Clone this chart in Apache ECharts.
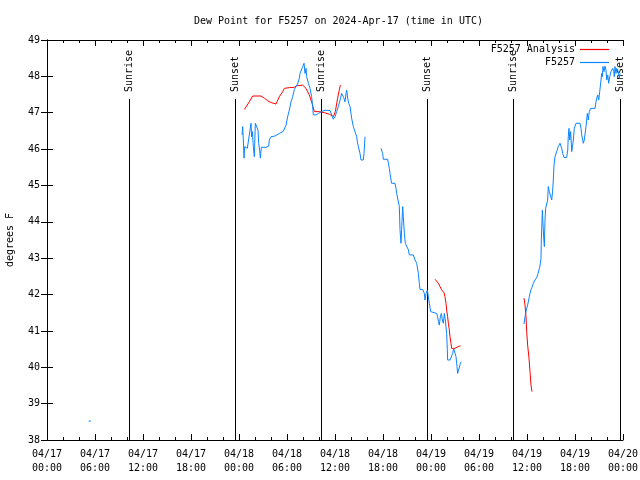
<!DOCTYPE html>
<html>
<head>
<meta charset="utf-8">
<script src="https://cdn.jsdelivr.net/npm/echarts@6/dist/echarts.min.js"></script>
<style>html,body{margin:0;padding:0;background:#fff}#c{width:640px;height:480px}</style>
</head>
<body>
<div id="c"></div>
<script>
// X axis is hours since 2024-04-17 00:00 UTC
const xTickLabels = ['04/17\n00:00','04/17\n06:00','04/17\n12:00','04/17\n18:00','04/18\n00:00','04/18\n06:00','04/18\n12:00','04/18\n18:00','04/19\n00:00','04/19\n06:00','04/19\n12:00','04/19\n18:00','04/20\n00:00'];

const sunEventHours  = [10.27, 23.55, 34.2, 47.55, 58.3, 71.6];
const sunEventLabels = ['Sunrise','Sunset','Sunrise','Sunset','Sunrise','Sunset'];

// F5257 Analysis (red); null = gap
const analysisHours = [24.67,24.875,25.29,25.71,26.75,27.17,27.58,28.0,28.625,29.04,29.46,29.67,30.29,30.92,31.21,31.46,31.96,32.375,32.79,33.125,33.42,34.04,34.67,35.29,35.79,36.04,36.33,36.54,36.67,
  40,
  48.5,48.71,48.92,49.125,49.33,49.625,49.75,49.875,49.96,50.08,50.17,50.29,50.375,50.5,50.58,50.79,51.0,51.2,51.4,51.7,
  55,
  59.625,59.75,59.875,59.96,60.08,60.25,60.375,60.5,60.625];
const analysisValues = [47.09,47.12,47.30,47.46,47.46,47.40,47.33,47.28,47.24,47.44,47.58,47.67,47.69,47.70,47.74,47.79,47.76,47.67,47.49,47.26,47.03,47.03,47.0,46.96,46.89,47.03,47.40,47.63,47.76,
  null,
  42.42,42.38,42.31,42.22,42.13,42.05,41.94,41.76,41.57,41.39,41.21,41.03,40.84,40.66,40.52,40.49,40.52,40.55,40.57,40.59,
  null,
  41.90,41.71,41.39,40.98,40.61,40.25,39.88,39.51,39.33];

// F5257 observations (blue); null = gap
const obsHours = [5.2,5.5,
  6,
  24.38,24.46,24.54,24.63,24.71,24.79,25.04,25.29,25.5,25.58,25.67,25.79,25.92,26.04,26.25,26.38,26.46,26.58,26.67,26.79,26.96,27.38,27.71,27.79,28.0,28.5,28.71,29.04,29.54,29.71,29.88,30.08,30.29,30.5,30.71,30.92,31.13,31.33,31.54,31.63,31.83,31.96,32.13,32.25,32.38,32.46,32.67,32.88,33.08,33.21,33.29,33.63,33.92,34.33,34.75,35.38,35.58,35.79,36.0,36.21,36.42,36.63,36.83,36.96,37.08,37.25,37.38,37.46,37.58,37.71,37.88,38.08,38.29,38.5,38.71,38.79,38.92,39.125,39.25,39.54,39.625,39.75,
  40.5,
  41.75,41.96,42.04,42.58,42.67,42.79,42.875,43.0,43.08,43.5,43.625,43.71,43.92,44.04,44.125,44.25,44.33,44.46,44.54,44.67,44.79,44.96,45.17,45.29,45.79,46.0,46.21,46.42,46.54,46.625,46.96,47.17,47.25,47.375,47.54,47.67,47.79,47.96,48.21,48.71,48.83,48.92,49.04,49.17,49.29,49.42,49.54,49.67,49.79,49.96,50.04,50.08,50.375,50.625,50.71,50.83,51.0,51.125,51.25,51.33,51.54,51.67,51.79,
  55,
  59.625,59.75,59.875,59.96,60.08,60.21,60.29,60.375,60.5,60.625,60.79,61.0,61.2,61.33,61.46,61.58,61.67,61.75,61.79,61.92,62.08,62.17,62.25,62.33,62.46,62.58,62.66,62.79,62.96,63.09,63.21,63.29,63.375,63.5,63.71,63.91,64.125,64.34,64.46,64.625,64.96,65.09,65.16,65.25,65.34,65.46,65.59,65.71,65.79,65.91,66.125,66.625,66.75,66.84,67.04,67.16,67.375,67.54,67.66,67.79,67.96,68.5,68.625,68.71,68.84,68.96,69.09,69.25,69.34,69.41,69.5,69.625,69.75,69.875,69.96,70.09,70.21,70.34,70.5,70.71,70.84,70.91,71.0,71.125,71.21,71.41,71.54,71.625];
const obsValues = [38.52,38.52,
  null,
  46.39,46.62,46.25,45.75,46.07,46.02,46.02,46.05,46.71,46.34,46.48,46.07,45.79,46.71,46.71,46.52,46.16,45.97,45.75,46.05,46.02,46.05,46.08,46.25,46.34,46.36,46.39,46.43,46.49,46.54,46.66,46.89,47.07,47.30,47.44,47.64,47.73,47.79,47.95,48.08,48.13,48.27,48.36,48.08,48.22,47.99,47.81,47.67,47.44,47.17,46.94,46.94,46.98,47.03,47.07,47.06,47.03,46.82,46.89,47.03,47.17,47.35,47.53,47.58,47.42,47.30,47.53,47.62,47.40,47.26,47.17,46.85,46.62,46.57,46.34,46.20,46.07,45.88,45.70,45.70,45.88,46.34,
  null,
  46.02,45.88,45.72,45.72,45.61,45.47,45.33,45.15,45.06,45.06,44.92,44.78,44.74,44.42,43.78,43.41,43.78,44.42,44.14,43.68,43.41,43.36,43.23,43.09,43.09,42.95,42.86,42.58,42.31,42.14,42.14,42.03,41.85,42.03,42.12,41.94,41.76,41.53,41.48,41.48,41.39,41.26,41.16,41.39,41.48,41.30,41.21,41.48,41.30,40.93,40.48,40.20,40.20,40.22,40.38,40.52,40.48,40.29,40.02,39.83,39.83,40.11,40.15,
  null,
  41.19,41.39,41.53,41.62,41.71,41.85,41.94,42.03,42.14,42.20,42.31,42.40,42.46,42.54,42.65,42.74,42.86,43.0,43.5,44.32,43.59,43.32,44.05,44.37,44.42,44.6,44.97,44.83,44.78,44.60,44.87,45.15,45.56,45.79,45.93,46.07,46.16,46.02,45.88,45.77,45.77,45.97,46.34,46.57,46.25,46.48,45.93,46.11,46.25,46.57,46.71,46.71,46.57,46.39,46.16,46.25,46.62,46.98,46.80,47.03,47.12,47.12,47.30,47.40,47.49,47.35,47.58,47.90,48.08,47.99,48.27,48.13,48.28,48.17,47.90,48.04,47.81,47.99,48.13,48.22,48.13,47.99,48.27,48.08,48.22,48.13,47.95,48.08];

const FONT = '"DejaVu Sans Mono", "Liberation Mono", monospace';
const LEGEND_LINE = 'path://M0,0 L29,0 L29,1.2 L0,1.2 Z';
const toData = (hs, vs) => hs.map((h, i) => [h, vs[i] == null ? '-' : vs[i]]);

const chart = echarts.init(document.getElementById('c'), null, {renderer: 'canvas'});

const xBase = {
  type: 'value', min: 0, max: 72, interval: 6,
  axisLine: {show: true, lineStyle: {color: '#000', width: 1}},
  axisTick: {show: true, inside: true, length: 6, lineStyle: {color: '#000'}},
  minorTick: {show: true, splitNumber: 3, length: 3, lineStyle: {color: '#000'}},
  splitLine: {show: false}
};
const yBase = {
  type: 'value', min: 38, max: 49, interval: 1,
  axisLine: {show: true, lineStyle: {color: '#000', width: 1}},
  axisTick: {show: true, inside: true, length: 6, lineStyle: {color: '#000'}},
  splitLine: {show: false}
};

chart.setOption({
  animation: false,
  backgroundColor: '#fff',
  title: {
    text: 'Dew Point for F5257 on 2024-Apr-17 (time in UTC)',
    left: 189, top: 11,
    textStyle: {fontFamily: FONT, fontSize: 10, fontWeight: 'normal', color: '#000'}
  },
  legend: {
    orient: 'vertical', right: 31, top: 43, align: 'right',
    padding: 0, itemGap: 0, itemWidth: 29, itemHeight: 13,
    symbolKeepAspect: true,
    textStyle: {fontFamily: FONT, fontSize: 10, color: '#000', lineHeight: 13},
    data: [
      {name: 'F5257 Analysis', icon: LEGEND_LINE},
      {name: 'F5257', icon: LEGEND_LINE}
    ]
  },
  grid: {left: 47, right: 17, top: 40, bottom: 40, containLabel: false, outerBoundsMode: 'none'},
  xAxis: [
    Object.assign({}, xBase, {
      position: 'bottom',
      axisLabel: {
        show: true, margin: 7, fontFamily: FONT, fontSize: 10, color: '#000', lineHeight: 14,
        formatter: v => xTickLabels[Math.round(v / 6)]
      }
    }),
    Object.assign({}, xBase, {position: 'top', axisLabel: {show: false}})
  ],
  yAxis: [
    Object.assign({}, yBase, {
      position: 'left',
      name: 'degrees F', nameLocation: 'middle', nameGap: 32, nameRotate: 90,
      nameTextStyle: {fontFamily: FONT, fontSize: 10, color: '#000'},
      axisLabel: {show: true, margin: 7, fontFamily: FONT, fontSize: 10, color: '#000'}
    }),
    Object.assign({}, yBase, {position: 'right', axisLabel: {show: false}})
  ],
  series: [
    {
      name: 'Sun', type: 'custom', xAxisIndex: 0, yAxisIndex: 0, clip: false,
      data: sunEventHours.map((h, i) => [h, i]),
      encode: {x: 0},
      silent: true,
      renderItem: function (params, api) {
        const h = api.value(0);
        const lbl = sunEventLabels[api.value(1)];
        const top = api.coord([h, 47.38]);
        const bot = api.coord([h, 38]);
        const x = Math.round(top[0]) + 0.5;
        return {
          type: 'group',
          children: [
            {type: 'line', shape: {x1: x, y1: Math.round(top[1]), x2: x, y2: bot[1]},
             style: {stroke: '#000', lineWidth: 1}},
            {type: 'text', x: x, y: Math.round(top[1]) - 7, rotation: Math.PI / 2,
             style: {text: lbl, fill: '#000', font: '10px ' + FONT, align: 'left', verticalAlign: 'middle'}}
          ]
        };
      }
    },
    {
      name: 'F5257 Analysis', type: 'line', xAxisIndex: 0, yAxisIndex: 0,
      data: toData(analysisHours, analysisValues),
      symbol: 'none', showSymbol: false, connectNulls: false,
      lineStyle: {color: '#ff0000', width: 1}, itemStyle: {color: '#ff0000'}
    },
    {
      name: 'F5257', type: 'line', xAxisIndex: 0, yAxisIndex: 0,
      data: toData(obsHours, obsValues),
      symbol: 'none', showSymbol: false, connectNulls: false,
      lineStyle: {color: '#0a84ff', width: 1}, itemStyle: {color: '#0a84ff'}
    }
  ]
});
</script>
</body>
</html>
